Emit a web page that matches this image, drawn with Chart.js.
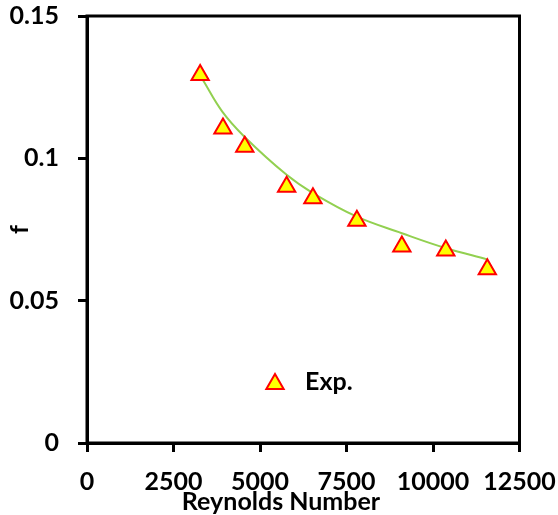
<!DOCTYPE html>
<html><head><meta charset="utf-8">
<script src="https://cdn.jsdelivr.net/npm/chart.js@4"></script>
<style>html,body{margin:0;padding:0;background:#fff}#wrap{width:558px;height:515px}</style>
</head><body><div id="wrap"><canvas id="c"></canvas></div>
<script>
const reynolds = [3270, 3930, 4560, 5770, 6530, 7800, 9100, 10370, 11570];
const frictionExp = [0.1293, 0.1105, 0.1041, 0.0900, 0.0860, 0.0781, 0.0690, 0.0676, 0.0610];
const trendRe = [3350, 3910, 4550, 5770, 6540, 7800, 9100, 10360, 11570];
const trendF = [0.1275, 0.1164, 0.1076, 0.0942, 0.0877, 0.0795, 0.0737, 0.0685, 0.0645];
const xTicks = [0, 2500, 5000, 7500, 10000, 12500];
const yTicks = [0, 0.05, 0.1, 0.15];
const seriesLabel = 'Exp.';
const xTitle = 'Reynolds Number';
const yTitle = 'f';

const FONT = 'Lato';
const FS = 25;
const frame = {
  id: 'frame',
  afterDatasetsDraw(chart) {
    const {ctx, chartArea: a} = chart;
    ctx.save();
    ctx.strokeStyle = '#000';
    ctx.lineWidth = 3;
    ctx.strokeRect(a.left, a.top, a.right - a.left, a.bottom - a.top);
    ctx.restore();
  }
};
const customLegend = {
  id: 'customLegend',
  afterDraw(chart) {
    const {ctx} = chart;
    const ds = chart.data.datasets[0];
    ctx.save();
    ctx.fillStyle = ds.pointBackgroundColor;
    ctx.strokeStyle = ds.pointBorderColor;
    ctx.lineWidth = ds.pointBorderWidth;
    Chart.helpers.drawPoint(ctx, {pointStyle: 'triangle', radius: ds.pointRadius, rotation: 0, borderWidth: ds.pointBorderWidth}, 275, 384);
    ctx.fillStyle = '#000';
    ctx.font = 'bold ' + FS + 'px ' + FONT;
    ctx.textBaseline = 'middle';
    ctx.fillText(ds.label, 305, 382);
    // x-axis title (offset left of plot centre, as in the original)
    ctx.textAlign = 'center';
    ctx.fillText(xTitle, 281, 502);
    ctx.restore();
  }
};

new Chart(document.getElementById('c'), {
  type: 'scatter',
  data: {
    datasets: [
      {
        label: seriesLabel,
        data: reynolds.map((x, i) => ({x, y: frictionExp[i]})),
        pointStyle: 'triangle',
        pointRadius: 10,
        pointBackgroundColor: '#FFFF00',
        pointBorderColor: '#FF0000',
        pointBorderWidth: 2,
        showLine: false,
        order: 0
      },
      {
        label: 'trend',
        data: trendRe.map((x, i) => ({x, y: trendF[i]})),
        showLine: true,
        borderColor: '#92D050',
        borderWidth: 2,
        pointRadius: 0,
        tension: 0.4,
        fill: false,
        order: 1
      }
    ]
  },
  options: {
    responsive: true,
    maintainAspectRatio: false,
    animation: false,
    layout: {padding: {top: 16, right: 38.5, bottom: 0, left: 0}},
    plugins: {legend: {display: false}, tooltip: {enabled: false}},
    scales: {
      x: {
        type: 'linear', min: 0, max: 12500,
        afterBuildTicks: s => { s.ticks = xTicks.map(v => ({value: v})); },
        afterFit: s => { s.height = 72; s.paddingLeft = 0; s.paddingRight = 0; },
        grid: {drawOnChartArea: false, drawTicks: true, tickLength: 9, color: '#000', lineWidth: 3},
        border: {display: true, color: '#000', width: 3},
        ticks: {color: '#000', font: {family: FONT, size: FS, weight: 'bold'}, padding: 15, maxRotation: 0, autoSkip: false,
          callback: v => String(v)},
        title: {display: false}
      },
      y: {
        type: 'linear', min: 0, max: 0.15,
        afterBuildTicks: s => { s.ticks = yTicks.map(v => ({value: v})); },
        afterFit: s => { s.width = 87; s.paddingTop = 0; s.paddingBottom = 0; },
        grid: {drawOnChartArea: false, drawTicks: true, tickLength: 9, color: '#000', lineWidth: 3},
        border: {display: true, color: '#000', width: 3},
        ticks: {color: '#000', font: {family: FONT, size: FS, weight: 'bold'}, padding: 19, autoSkip: false,
          callback: v => String(v)},
        title: {display: true, text: yTitle, color: '#000', font: {family: FONT, size: FS, weight: 'bold'}, padding: {top: 5, bottom: 0}}
      }
    }
  },
  plugins: [frame, customLegend]
});
</script></body></html>
